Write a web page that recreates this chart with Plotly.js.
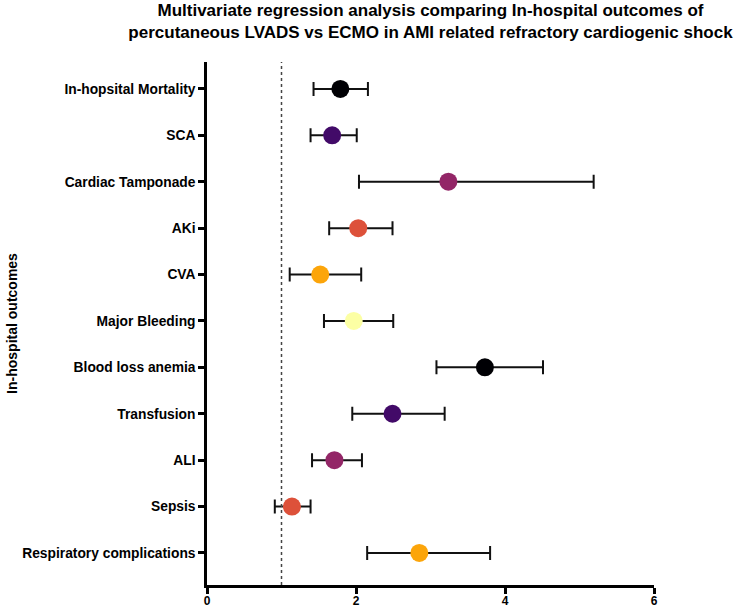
<!DOCTYPE html>
<html>
<head>
<meta charset="utf-8">
<script src="https://cdn.plot.ly/plotly-3.0.1.min.js"></script>
<style>
  html, body { margin: 0; padding: 0; background: #fff; }
  #plot { width: 737px; height: 610px; }
</style>
</head>
<body>
<div id="plot"></div>
<script>
// outcomes, top to bottom
var outcomes = ["In-hopsital Mortality", "SCA", "Cardiac Tamponade", "AKi", "CVA",
  "Major Bleeding", "Blood loss anemia", "Transfusion", "ALI", "Sepsis",
  "Respiratory complications"];

// odds ratio and 95% CI
var oddsRatio = [1.79, 1.68, 3.24, 2.03, 1.52, 1.97, 3.73, 2.49, 1.71, 1.14, 2.85];
var ciLower   = [1.43, 1.39, 2.04, 1.64, 1.11, 1.57, 3.08, 1.95, 1.41, 0.91, 2.15];
var ciUpper   = [2.16, 2.01, 5.19, 2.49, 2.07, 2.50, 4.51, 3.19, 2.08, 1.39, 3.80];

var dotColors = ["#000004", "#420a68", "#932667", "#dd513a", "#fca50a", "#fcffa4",
  "#000004", "#420a68", "#932667", "#dd513a", "#fca50a"];

var xTicks = [0, 2, 4, 6];

var plus = oddsRatio.map(function (v, i) { return ciUpper[i] - v; });
var minus = oddsRatio.map(function (v, i) { return v - ciLower[i]; });

var trace1 = {
  x: oddsRatio,
  y: outcomes,
  type: "scatter",
  mode: "markers",
  marker: { size: 18, color: dotColors },
  error_x: {
    type: "data",
    symmetric: false,
    array: plus,
    arrayminus: minus,
    color: "#111",
    thickness: 2,
    width: 7
  },
  hoverinfo: "x+y"
};

var data = [trace1];

var layout = {
  width: 737,
  height: 610,
  margin: { l: 207, r: 83, t: 62, b: 25 },
  font: { family: "Liberation Sans, Arial, sans-serif", color: "#000" },
  title: {
    text: "<b>Multivariate regression analysis comparing In-hospital outcomes of<br>percutaneous LVADS vs ECMO in AMI related refractory cardiogenic shock</b>",
    font: { size: 17, color: "#000" },
    x: 0.5,
    xref: "paper",
    xanchor: "center",
    yref: "container",
    y: 0.974,
    yanchor: "middle"
  },
  showlegend: false,
  plot_bgcolor: "#fff",
  paper_bgcolor: "#fff",
  xaxis: {
    range: [0, 6],
    tickvals: xTicks,
    ticktext: xTicks.map(function (t) { return "<b>" + t + "</b>"; }),
    showgrid: false,
    zeroline: false,
    showline: true,
    linecolor: "#000",
    linewidth: 2.5,
    ticks: "outside",
    ticklen: 6,
    tickwidth: 2.5,
    tickcolor: "#000",
    ticklabelstandoff: -3,
    tickfont: { size: 12 }
  },
  yaxis: {
    type: "category",
    categoryorder: "array",
    categoryarray: outcomes,
    range: [10.69, -0.58],
    tickvals: outcomes,
    ticktext: outcomes.map(function (t) { return "<b>" + t + "</b>"; }),
    showgrid: false,
    zeroline: false,
    showline: true,
    linecolor: "#000",
    linewidth: 2.5,
    ticks: "outside",
    ticklen: 6,
    tickwidth: 2.5,
    tickcolor: "#000",
    tickfont: { size: 13.8 },
    title: { text: "<b>In-hospital outcomes</b>", font: { size: 14 }, standoff: 2 }
  },
  shapes: [{
    type: "line",
    xref: "x", yref: "paper",
    x0: 1, x1: 1, y0: 0, y1: 1,
    line: { color: "#444", width: 1.5, dash: "dot" }
  }]
};

Plotly.newPlot("plot", data, layout, { displayModeBar: false });
</script>
</body>
</html>
